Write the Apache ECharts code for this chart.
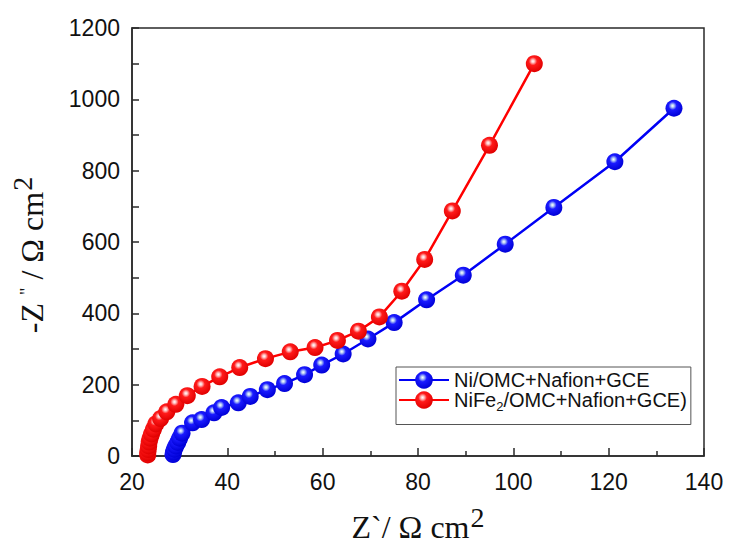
<!DOCTYPE html>
<html>
<head>
<meta charset="utf-8">
<script src="https://cdn.jsdelivr.net/npm/echarts@6/dist/echarts.min.js"></script>
<style>
  html, body { margin: 0; padding: 0; background: #ffffff; }
  #chart { width: 731px; height: 548px; }
</style>
</head>
<body>
<div id="chart"></div>
<script>
// Nyquist plot: Z' (real) vs -Z'' (imaginary), both in Ω cm²
const seriesNames = ['Ni/OMC+Nafion+GCE', 'NiFe2/OMC+Nafion+GCE)'];

const niZre = [28.6, 28.7, 28.9, 29.2, 29.6, 30.0, 30.5, 32.7, 34.6, 37.2, 38.8, 42.3, 44.8,
  48.4, 52.0, 56.2, 59.8, 64.3, 69.5, 75.0, 81.8, 89.5, 98.3, 108.5, 121.3, 133.7];
const niZim = [4, 11, 19, 28, 38, 50, 64, 93, 102, 121, 136, 149, 167,
  186, 203, 228, 255, 286, 328, 374, 438, 507, 594, 697, 825, 975];

const nifeZre = [23.3, 23.3, 23.4, 23.5, 23.6, 23.8, 24.1, 24.5, 25.0, 26.0, 27.3, 29.2, 31.6,
  34.7, 38.4, 42.6, 48.0, 53.2, 58.4, 63.1, 67.5, 71.9, 76.6, 81.4, 87.2, 95.0, 104.4];
const nifeZim = [3, 9, 18, 28, 39, 50, 62, 75, 90, 105, 124, 145, 169,
  195, 222, 248, 273, 292, 304, 324, 350, 390, 462, 551, 687, 871, 1100];

const xTicks = { min: 20, max: 140, step: 20 };
const yTicks = { min: 0, max: 1200, step: 200 };

function pairs(xs, ys) { return xs.map((x, i) => [x, ys[i]]); }

// glossy sphere fill for the markers
function sphere(hi, core, edge) {
  return {
    type: 'radial', x: 0.42, y: 0.36, r: 0.64,
    colorStops: [
      { offset: 0, color: '#ffffff' },
      { offset: 0.14, color: hi },
      { offset: 0.38, color: core },
      { offset: 1, color: edge }
    ]
  };
}

const blueBall = sphere('#b4ccf4', '#1a1aff', '#0000d6');
const redBall = sphere('#ffc4c4', '#ff1a1a', '#e00000');

const axisFont = 'Liberation Sans';
const serif = 'Liberation Serif';

const chart = echarts.init(document.getElementById('chart'), null, { renderer: 'svg' });

chart.setOption({
  animation: false,
  backgroundColor: '#ffffff',
  grid: {
    left: 127, right: 27, top: 28, bottom: 91,
    show: true, borderColor: '#2a2a2a', borderWidth: 1.5, backgroundColor: 'transparent'
  },
  legend: {
    orient: 'vertical',
    left: 396, top: 367,
    padding: [3, 4, 12, 2],
    itemGap: 0,
    itemWidth: 50, itemHeight: 22,
    borderColor: '#555', borderWidth: 1,
    backgroundColor: '#ffffff',
    textStyle: {
      fontFamily: axisFont, fontSize: 20, color: '#111',
      rich: {
        t: { fontFamily: axisFont, fontSize: 20, color: '#111' },
        sub: { fontFamily: axisFont, fontSize: 13, color: '#111', padding: [12, 0, 0, 0] }
      }
    },
    formatter: function (name) {
      const m = name.match(/^(NiFe)2(.*)$/);
      if (m) return '{t|' + m[1] + '}{sub|2}{t|' + m[2] + '}';
      return '{t|' + name + '}';
    },
    data: seriesNames
  },
  xAxis: {
    type: 'value',
    min: xTicks.min, max: xTicks.max, interval: xTicks.step,
    name: '{n|Z`/ Ω cm}{s|2}',
    nameLocation: 'middle',
    nameGap: 47,
    nameTextStyle: {
      rich: {
        n: { fontFamily: serif, fontSize: 32, color: '#111', verticalAlign: 'bottom' },
        s: { fontFamily: serif, fontSize: 28, color: '#111', verticalAlign: 'bottom', padding: [0, 0, 12, 1] }
      }
    },
    axisLine: { show: true, lineStyle: { color: '#2a2a2a', width: 1.5 } },
    axisTick: { show: true, inside: true, length: 8, lineStyle: { color: '#2a2a2a', width: 1.5 } },
    minorTick: { show: true, splitNumber: 2, length: 5, lineStyle: { color: '#2a2a2a', width: 1.5 } },
    axisLabel: { fontFamily: axisFont, fontSize: 23, color: '#111', margin: 14 },
    splitLine: { show: false }
  },
  yAxis: {
    type: 'value',
    min: yTicks.min, max: yTicks.max, interval: yTicks.step,
    name: '{n|-Z }{q|"}{n| / Ω cm}{s|2}',
    nameLocation: 'middle',
    nameGap: 84,
    nameTextStyle: {
      padding: [0, 26, 0, 0],
      rich: {
        n: { fontFamily: serif, fontSize: 32, color: '#111', verticalAlign: 'bottom' },
        q: { fontFamily: serif, fontSize: 18, color: '#111', verticalAlign: 'bottom', padding: [0, 0, 12, 0] },
        s: { fontFamily: serif, fontSize: 28, color: '#111', verticalAlign: 'bottom', padding: [0, 0, 12, 1] }
      }
    },
    axisLine: { show: true, lineStyle: { color: '#2a2a2a', width: 1.5 } },
    axisTick: { show: true, inside: true, length: 7, lineStyle: { color: '#2a2a2a', width: 1.5 } },
    minorTick: { show: true, splitNumber: 2, length: 7, lineStyle: { color: '#2a2a2a', width: 1.5 } },
    axisLabel: {
      fontFamily: axisFont, fontSize: 23, color: '#111', margin: 12,
      formatter: function (v) { return String(v); }
    },
    splitLine: { show: false }
  },
  series: [
    {
      name: seriesNames[0],
      type: 'line',
      data: pairs(niZre, niZim),
      symbol: 'circle',
      symbolSize: 17,
      lineStyle: { color: '#0000f5', width: 2.5 },
      itemStyle: { color: blueBall, borderWidth: 0 },
      z: 2
    },
    {
      name: seriesNames[1],
      type: 'line',
      data: pairs(nifeZre, nifeZim),
      symbol: 'circle',
      symbolSize: 17,
      lineStyle: { color: '#ff0000', width: 2.5 },
      itemStyle: { color: redBall, borderWidth: 0 },
      z: 3
    }
  ]
});
</script>
</body>
</html>
